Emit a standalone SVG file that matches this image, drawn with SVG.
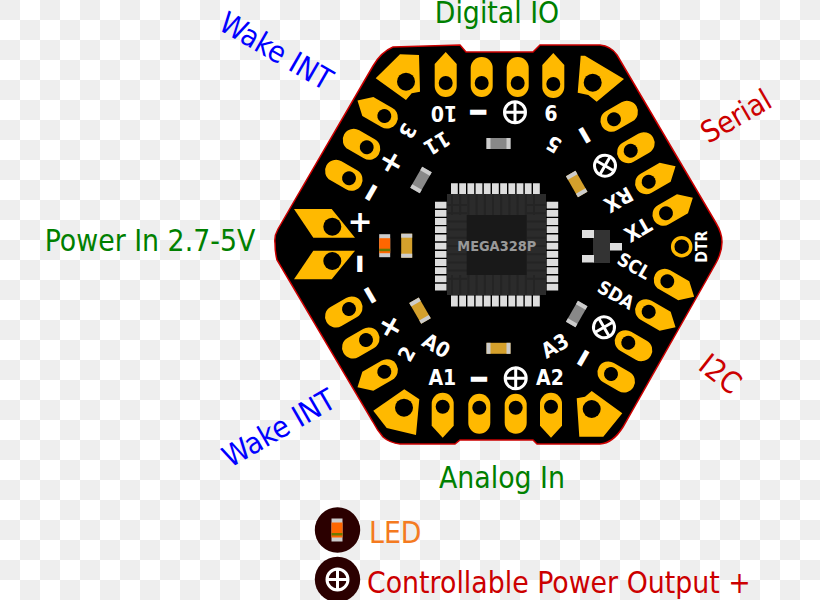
<svg xmlns="http://www.w3.org/2000/svg" width="820" height="600" viewBox="0 0 820 600">
<style>
.pad{fill:#ffb900}
.hole{fill:#000}
.silk{fill:#fff;font-family:"DejaVu Sans Condensed","DejaVu Sans",sans-serif;font-stretch:condensed;font-weight:700;font-size:21px;text-anchor:middle;dominant-baseline:central}
.plus{font-family:"DejaVu Sans",sans-serif;font-stretch:normal;font-size:30px}
.minus{font-family:"DejaVu Sans",sans-serif;font-stretch:normal;font-size:22px;stroke:#fff;stroke-width:2.500px}
.small{font-size:18.500px}
.label{font-family:"DejaVu Sans Condensed","DejaVu Sans",sans-serif;font-stretch:condensed;font-size:29.800px;text-anchor:middle}
.legend{font-family:"DejaVu Sans Condensed","DejaVu Sans",sans-serif;font-stretch:condensed;font-size:29.800px}
.cap{fill:#ccc}
.pin{fill:#ddd}
</style>
<defs>
<pattern id="checks" width="40" height="40" patternUnits="userSpaceOnUse">
<rect width="40" height="40" fill="#fff"/>
<rect width="20" height="20" fill="#eee"/>
<rect x="20" y="20" width="20" height="20" fill="#eee"/>
</pattern>
<g id="pill"><rect class="pad" x="-11" y="-26" width="22" height="40" rx="11"/><circle class="hole" r="7"/></g>
<g id="point"><path class="pad" d="M0-31L11-19V3A11 11 0 0 1-11 3V-19Z"/><circle class="hole" r="7"/></g>
<g id="gray"><rect x="-12" y="-5.500" width="24" height="11" fill="#888"/><rect class="cap" x="-12" y="-5.500" width="4" height="11"/><rect class="cap" x="8" y="-5.500" width="4" height="11"/></g>
<g id="tan"><rect x="-12" y="-5.500" width="24" height="11" fill="#d4a02c"/><rect class="cap" x="-12" y="-5.500" width="4" height="11"/><rect class="cap" x="8" y="-5.500" width="4" height="11"/></g>
<g id="led"><rect x="-5.500" y="-11.500" width="11" height="23" fill="#ccc"/><rect x="-5.500" y="-7.500" width="11" height="15" fill="#f60"/><rect x="-5.500" y="3" width="11" height="2.500" fill="#6a7a00"/></g>
<g id="power"><circle r="10.500" fill="none" stroke="#fff" stroke-width="3"/><path d="M-10.500 0H10.500M0-10.500V10.500" stroke="#fff" stroke-width="3"/></g>
</defs>
<rect id="ground" width="820" height="600" fill="url(#checks)"/>

<g id="board">
<path d="M275 243Q274 236 278 229L373 66Q381 52 393 47L460 45L466 52H533L540 45H600Q611 46 617 55L716 223Q722 233 722 242Q722 252 716 263L623 427Q613 443 600 444H537L533 440H460L455 444H400Q390 443 383 437Q377 430 373 422L277 260Q275 252 275 243Z" fill="#000" stroke="#c00" stroke-width="1.500"/>
</g>

<g id="pads-top">
<use href="#point" x="445.700" y="83"/>
<use href="#pill" x="481.700" y="83"/>
<use href="#pill" x="517.700" y="83"/>
<use href="#point" x="553.300" y="84"/>
</g>
<g id="pads-bottom">
<use href="#point" transform="translate(442.700 406.700) rotate(180)"/>
<use href="#pill" transform="translate(479.300 407.700) rotate(180)"/>
<use href="#pill" transform="translate(515.700 407.700) rotate(180)"/>
<use href="#point" transform="translate(551 406.700) rotate(180)"/>
</g>
<g id="pads-upper-left">
<use href="#point" transform="translate(384.300 116) rotate(-60)"/>
<use href="#pill" transform="translate(366.700 147.300) rotate(-60)"/>
<use href="#pill" transform="translate(349 178.300) rotate(-60)"/>
</g>
<g id="pads-upper-right">
<use href="#pill" transform="translate(614 119.300) rotate(60)"/>
<use href="#pill" transform="translate(630.700 150.700) rotate(60)"/>
<use href="#point" transform="translate(648.700 181.700) rotate(60)"/>
<use href="#point" transform="translate(666 213.300) rotate(60)"/>
</g>
<g id="pads-lower-right">
<use href="#point" transform="translate(667.300 281.300) rotate(120)"/>
<use href="#point" transform="translate(648.700 311.700) rotate(120)"/>
<use href="#pill" transform="translate(628.300 342.700) rotate(120)"/>
<use href="#pill" transform="translate(611 374) rotate(120)"/>
</g>
<g id="pads-lower-left">
<use href="#pill" transform="translate(349 309) rotate(-120)"/>
<use href="#pill" transform="translate(366 340) rotate(-120)"/>
<use href="#point" transform="translate(384.300 371.700) rotate(-120)"/>
</g>
<g id="pads-corner">
<path class="pad" d="M400 54.300L419 55L420 91.700L411.700 93.300L406 100L375.700 78.300Z"/><circle class="hole" cx="406" cy="81.700" r="9"/>
<path class="pad" d="M580.700 55.700H585L624 79L596.700 101.700L588.300 95L577.700 92.700Z"/><circle class="hole" cx="592.700" cy="82.700" r="9"/>
<path class="pad" d="M404.300 389.300L419.300 399.300L416 435L386.700 428L373.300 410.700Z"/><circle class="hole" cx="404" cy="407.700" r="9"/>
<path class="pad" d="M591.700 391L622.300 413.300L603.300 436.700L579.300 436.700L576.700 398.300L585 396.700Z"/><circle class="hole" cx="591.700" cy="409" r="9"/>
</g>
<g id="pads-power">
<path class="pad" d="M294 209H331.700L355 237.700H313.300Z"/><circle class="hole" cx="332.300" cy="226.700" r="9"/>
<path class="pad" d="M313.300 250.700H355L331.700 279.300H294Z"/><circle class="hole" cx="332.300" cy="261" r="9"/>
</g>
<g id="pad-dtr"><circle cx="681.700" cy="246.700" r="9" fill="#000" stroke="#ffb900" stroke-width="3.500"/></g>

<g id="mcu">
<rect x="447" y="194" width="99" height="101" fill="#2b2b2b"/>
<path d="M452 194V215M460.200 194V215M468.400 194V215M476.600 194V215M484.800 194V215M493 194V215M501.200 194V215M509.400 194V215M517.600 194V215M525.800 194V215M534 194V215M452 275V295M460.200 275V295M468.400 275V295M476.600 275V295M484.800 275V295M493 275V295M501.200 275V295M509.400 275V295M517.600 275V295M525.800 275V295M534 275V295M447 205H467M447 213.200H467M447 221.400H467M447 229.600H467M447 237.800H467M447 246H467M447 254.200H467M447 262.400H467M447 270.600H467M447 278.800H467M527 205H546M527 213.200H546M527 221.400H546M527 229.600H546M527 237.800H546M527 246H546M527 254.200H546M527 262.400H546M527 270.600H546M527 278.800H546" stroke="#242424" stroke-width="2"/>
<rect x="466.700" y="215" width="60" height="60" fill="#191919"/>
<g class="pin">
<path d="M451 183.300h6.800v10.700h-6.800zM459.200 183.300h6.800v10.700h-6.800zM467.400 183.300h6.800v10.700h-6.800zM475.600 183.300h6.800v10.700h-6.800zM483.800 183.300h6.800v10.700h-6.800zM492 183.300h6.800v10.700h-6.800zM500.200 183.300h6.800v10.700h-6.800zM508.400 183.300h6.800v10.700h-6.800zM516.600 183.300h6.800v10.700h-6.800zM524.800 183.300h6.800v10.700h-6.800zM533 183.300h6.800v10.700h-6.800z"/>
<path d="M451 295.500h6.800v11h-6.800zM459.200 295.500h6.800v11h-6.800zM467.400 295.500h6.800v11h-6.800zM475.600 295.500h6.800v11h-6.800zM483.800 295.500h6.800v11h-6.800zM492 295.500h6.800v11h-6.800zM500.200 295.500h6.800v11h-6.800zM508.400 295.500h6.800v11h-6.800zM516.600 295.500h6.800v11h-6.800zM524.800 295.500h6.800v11h-6.800zM533 295.500h6.800v11h-6.800z"/>
<path d="M435 201.700h11.500v6.800h-11.500zM435 209.900h11.500v6.800h-11.500zM435 218.100h11.500v6.800h-11.500zM435 226.300h11.500v6.800h-11.500zM435 234.500h11.500v6.800h-11.500zM435 242.700h11.500v6.800h-11.500zM435 250.900h11.500v6.800h-11.500zM435 259.100h11.500v6.800h-11.500zM435 267.300h11.500v6.800h-11.500zM435 275.500h11.500v6.800h-11.500zM435 283.700h11.500v6.800h-11.500z"/>
<path d="M546.700 201.700h11.500v6.800h-11.500zM546.700 209.900h11.500v6.800h-11.500zM546.700 218.100h11.500v6.800h-11.500zM546.700 226.300h11.500v6.800h-11.500zM546.700 234.500h11.500v6.800h-11.500zM546.700 242.700h11.500v6.800h-11.500zM546.700 250.900h11.500v6.800h-11.500zM546.700 259.100h11.500v6.800h-11.500zM546.700 267.300h11.500v6.800h-11.500zM546.700 275.500h11.500v6.800h-11.500zM546.700 283.700h11.500v6.800h-11.500z"/>
</g>
<text x="496.700" y="246" text-anchor="middle" dominant-baseline="central" font-family="DejaVu Sans Condensed, DejaVu Sans, sans-serif" font-stretch="condensed" font-weight="700" font-size="14.400" fill="#999">MEGA328P</text>
</g>

<g id="regulator">
<rect x="593" y="230" width="17" height="33" fill="#333"/>
<rect class="pin" x="582" y="230" width="12" height="8"/>
<rect class="pin" x="582" y="255" width="12" height="7.500"/>
<rect class="pin" x="610" y="243" width="12" height="7.500"/>
</g>

<g id="passives">
<use href="#gray" x="498.500" y="143.500"/>
<use href="#tan" x="498.500" y="348.300"/>
<use href="#gray" transform="translate(421 180) rotate(-60)"/>
<use href="#tan" transform="translate(576.700 184) rotate(60)"/>
<use href="#gray" transform="translate(576.700 314) rotate(-60)"/>
<use href="#tan" transform="translate(420 310.700) rotate(60)"/>
<use href="#led" x="384.700" y="245.700"/>
<use href="#tan" transform="translate(406.700 245.700) rotate(90)"/>
</g>

<g id="power-marks">
<use href="#power" x="515" y="112.300"/>
<use href="#power" x="515.700" y="378.300"/>
<use href="#power" transform="translate(605 165.700) rotate(30)"/>
<use href="#power" transform="translate(604 327.300) rotate(-30)"/>
</g>

<g id="silk">
<text class="silk" transform="translate(444 112.500) rotate(180)">10</text>
<text class="silk" transform="translate(551 112) rotate(180)">9</text>
<text class="silk" transform="translate(554 144) rotate(210)">5</text>
<text class="silk" transform="translate(407.300 130.700) rotate(120)">3</text>
<text class="silk" transform="translate(436.700 143) rotate(150)">11</text>
<text class="silk" transform="translate(407 354) rotate(-60)">2</text>
<text class="silk" transform="translate(618.300 199.300) rotate(150)">RX</text>
<text class="silk" transform="translate(637.700 229.300) rotate(150)">TX</text>
<text class="silk small" transform="translate(634 266) rotate(30)">SCL</text>
<text class="silk small" transform="translate(616 295) rotate(30)">SDA</text>
<text class="silk" transform="translate(555 346) rotate(-30)">A3</text>
<text class="silk" x="550" y="378.300">A2</text>
<text class="silk" x="442.300" y="378.300">A1</text>
<text class="silk" transform="translate(436 346) rotate(30)">A0</text>
<text class="silk" style="font-size:15.600px" transform="translate(701.700 246.700) rotate(-90)">DTR</text>
<text class="silk minus" x="478.300" y="111.700">−</text>
<text class="silk minus" x="479" y="378.300">−</text>
<text class="silk minus" transform="translate(585 135) rotate(60)">−</text>
<text class="silk minus" transform="translate(582.700 357.700) rotate(-60)">−</text>
<text class="silk minus" transform="translate(370.700 295) rotate(60)">−</text>
<text class="silk minus" transform="translate(370.700 192.300) rotate(-60)">−</text>
<text class="silk minus" transform="translate(360 264) rotate(90)">−</text>
<text class="silk plus" x="360" y="221.700">+</text>
<text class="silk plus" transform="translate(391.700 161.700) rotate(30)">+</text>
<text class="silk plus" transform="translate(391 326) rotate(30)">+</text>
</g>

<g id="group-labels">
<text class="label" x="497" y="23" fill="#008000">Digital IO</text>
<text class="label" x="502" y="488" fill="#008000">Analog In</text>
<text class="label" x="150" y="251" fill="#008000">Power In 2.7-5V</text>
<text class="label" transform="translate(271 60) rotate(30)" fill="#00f">Wake INT</text>
<text class="label" transform="translate(284 437) rotate(-30)" fill="#00f">Wake INT</text>
<text class="label" transform="translate(741 125) rotate(-30)" fill="#c00">Serial</text>
<text class="label" transform="translate(714 382) rotate(38)" fill="#c00">I2C</text>
</g>

<g id="legend-led">
<circle cx="337.500" cy="530" r="22.700" fill="#2b0000"/>
<use href="#led" x="337" y="530"/>
<text class="legend" x="369" y="543.300" fill="#f47a20">LED</text>
</g>
<g id="legend-power">
<circle cx="337.500" cy="579.500" r="22.700" fill="#2b0000"/>
<use href="#power" x="337.500" y="579.500"/>
<text class="legend" x="367" y="593.300" fill="#c00">Controllable Power Output +</text>
</g>
</svg>
